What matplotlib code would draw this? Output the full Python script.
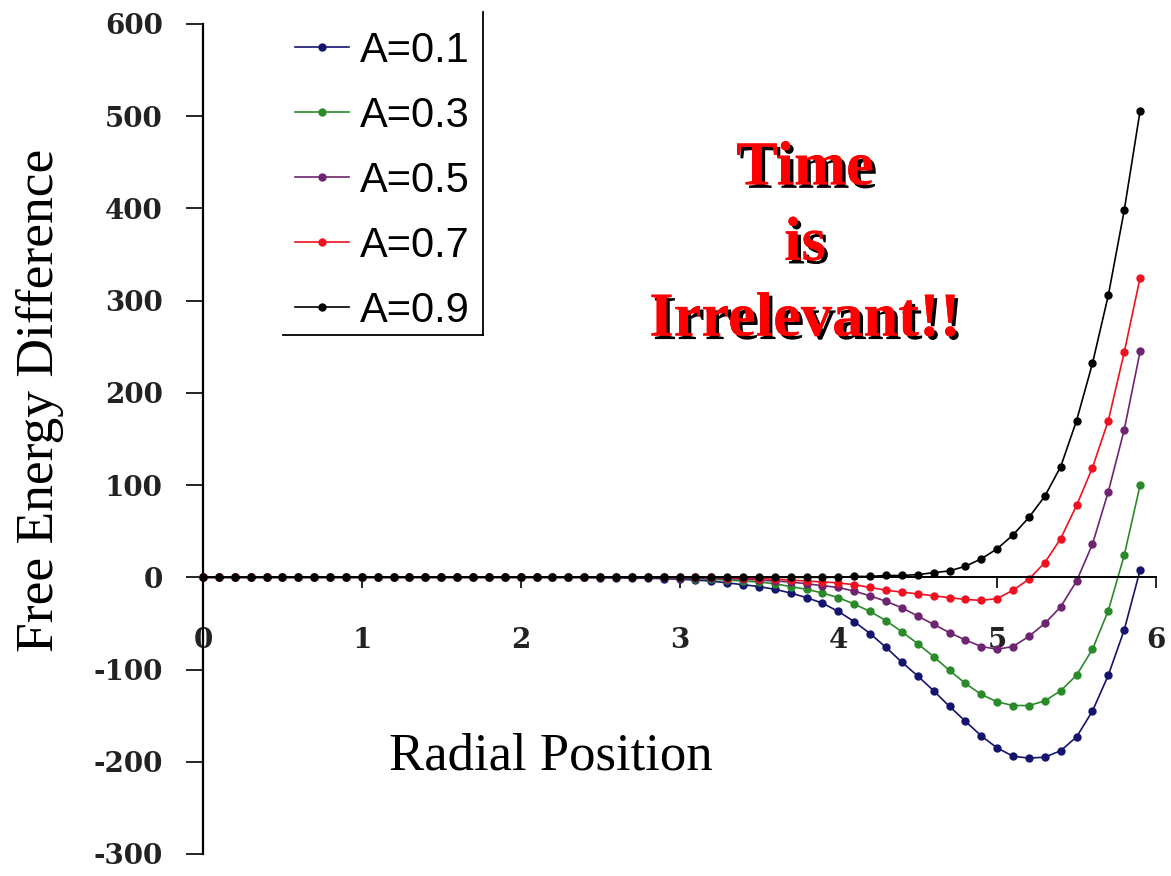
import matplotlib
matplotlib.use("Agg")
import matplotlib.pyplot as plt
import matplotlib.patheffects as pe
from matplotlib.lines import Line2D

# Radial grid
radial_position = [
    0.0, 0.1, 0.2, 0.3, 0.4, 0.5, 0.6, 0.7, 0.8, 0.9,
    1.0, 1.1, 1.2, 1.3, 1.4, 1.5, 1.6, 1.7, 1.8, 1.9,
    2.0, 2.1, 2.2, 2.3, 2.4, 2.5, 2.6, 2.7, 2.8, 2.9,
    3.0, 3.1, 3.2, 3.3, 3.4, 3.5, 3.6, 3.7, 3.8, 3.9,
    4.0, 4.1, 4.2, 4.3, 4.4, 4.5, 4.6, 4.7, 4.8, 4.9,
    5.0, 5.1, 5.2, 5.3, 5.4, 5.5, 5.6, 5.7, 5.8, 5.9,
]

# Free energy difference for each amplitude
fe_a01 = [
    0, 0, 0, 0, 0, 0, 0, 0, 0, 0,
    0, 0, 0, 0, 0, 0, 0, 0, 0, 0,
    0, 0, 0, 0, 0, -0.5, -0.5, -1, -1, -1.5,
    -2, -3, -4, -6, -8, -10, -13, -17, -22, -28,
    -37, -48, -61, -76, -92, -107, -123, -140, -156, -172,
    -185, -194, -196, -195, -188, -173, -145, -106, -57, 8,
]
fe_a03 = [
    0, 0, 0, 0, 0, 0, 0, 0, 0, 0,
    0, 0, 0, 0, 0, 0, 0, 0, 0, 0,
    0, 0, 0, 0, 0, 0, 0, 0, 0, 0,
    -1, -1.5, -2, -3, -4, -5, -7, -10, -13, -17,
    -22, -29, -37, -47, -59, -72, -86, -101, -115, -127,
    -135, -139, -139, -134, -123, -106, -78, -36, 24, 100,
]
fe_a05 = [
    0, 0, 0, 0, 0, 0, 0, 0, 0, 0,
    0, 0, 0, 0, 0, 0, 0, 0, 0, 0,
    0, 0, 0, 0, 0, 0, 0, 0, 0, 0,
    -0.5, -1, -1, -1.5, -2, -3, -4, -5, -7, -9,
    -11, -15, -20, -26, -33, -42, -51, -60, -68, -75,
    -78, -75, -64, -50, -32, -4, 36, 93, 160, 245,
]
fe_a07 = [
    0, 0, 0, 0, 0, 0, 0, 0, 0, 0,
    0, 0, 0, 0, 0, 0, 0, 0, 0, 0,
    0, 0, 0, 0, 0, 0, 0, 0, 0, 0,
    0, 0, 0, -0.5, -1, -1.5, -2, -3, -4, -5,
    -6, -8, -11, -14, -16, -18, -20, -22, -24, -25,
    -23, -14, -2, 16, 42, 78, 119, 170, 244, 325,
]
fe_a09 = [
    0, 0, 0, 0, 0, 0, 0, 0, 0, 0,
    0, 0, 0, 0, 0, 0, 0, 0, 0, 0,
    0, 0, 0, 0, 0, 0, 0, 0, 0, 0,
    0, 0, 0, 0, 0, 0, 0, 0, 0, 0,
    0, 1, 1, 2, 2, 3, 5, 7, 12, 20,
    31, 46, 65, 88, 120, 170, 232, 306, 398, 506,
]

series_labels = ["A=0.1", "A=0.3", "A=0.5", "A=0.7", "A=0.9"]
series_values = [fe_a01, fe_a03, fe_a05, fe_a07, fe_a09]
series_colors = ["#14146e", "#2a8a2a", "#6e2470", "#f01020", "#000000"]

y_ticks = [-300, -200, -100, 0, 100, 200, 300, 400, 500, 600]
x_ticks = [0, 1, 2, 3, 4, 5, 6]

W, H = 1171, 876
fig = plt.figure(figsize=(W / 100, H / 100), dpi=100)
ax = fig.add_axes([203 / W, 1 - 854 / H, (1156 - 203) / W, (854 - 24) / H])

for label, vals, col in zip(series_labels, series_values, series_colors):
    ax.plot(radial_position, vals, color=col, lw=1.2, marker="o", ms=5,
            mfc=col, mec=col, label=label, clip_on=False)

ax.set_xlim(0, 6)
ax.set_ylim(-300, 600)
ax.set_xticks(x_ticks)
ax.set_yticks(y_ticks)

ax.spines["top"].set_visible(False)
ax.spines["right"].set_visible(False)
ax.spines["bottom"].set_position(("data", 0))
ax.spines["left"].set_linewidth(1.6)
ax.spines["bottom"].set_linewidth(1.4)

tick_font = {"family": "DejaVu Serif", "weight": "bold", "size": 20}
ax.set_yticklabels([str(v) for v in y_ticks], fontdict=tick_font, color="#222222")
ax.set_xticklabels([str(v) for v in x_ticks], fontdict=tick_font, color="#222222")
ax.tick_params(axis="y", direction="out", length=12, width=1.2, pad=17)
ax.tick_params(axis="x", direction="out", length=8, width=1.2, pad=28)

fig.text(40 / W, 1 - 400 / H, "Free Energy Difference", rotation=90,
         ha="center", va="center", family="Liberation Serif", fontsize=38.5)
fig.text(551 / W, 1 - 757 / H, "Radial Position",
         ha="center", va="center", family="Liberation Serif", fontsize=38)

leg = ax.legend(loc="upper left", bbox_to_anchor=(295 / W, 1 - 31 / H),
                bbox_transform=fig.transFigure, frameon=False,
                prop={"family": "Liberation Sans", "size": 30},
                handlelength=1.3, handletextpad=0.25, labelspacing=0.6,
                borderpad=0, borderaxespad=0)

# Legend border: right and bottom edges only
fig.add_artist(Line2D([483 / W, 483 / W], [1 - 12 / H, 1 - 335 / H],
                      color="black", lw=1.3, transform=fig.transFigure))
fig.add_artist(Line2D([283 / W, 483 / W], [1 - 335 / H, 1 - 335 / H],
                      color="black", lw=1.3, transform=fig.transFigure))

fig.text(805 / W, 1 - 245 / H, "Time\nis\nIrrelevant!!", ha="center", va="center",
         family="Liberation Serif", weight="bold", fontsize=45, color="red",
         linespacing=1.4,
         path_effects=[pe.withSimplePatchShadow(offset=(2.5, -2.5),
                                                shadow_rgbFace="black", alpha=1.0),
                       pe.Normal()])

fig.savefig("out.png", dpi=100)
